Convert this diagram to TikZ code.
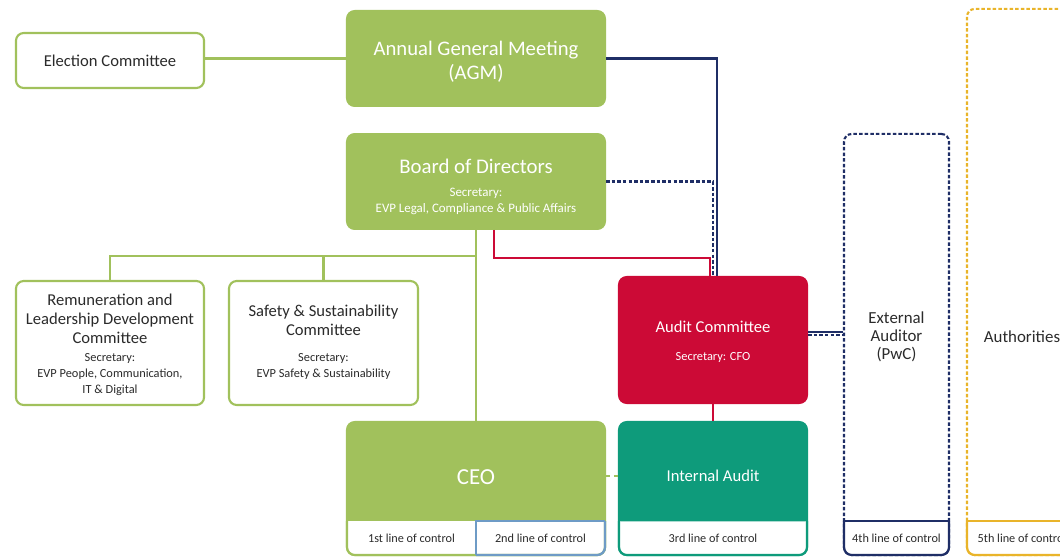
\documentclass[tikz,border=0pt]{standalone}
\usepackage{fontspec}
\setmainfont{Carlito}
\definecolor{agreen}{HTML}{A1C15C}
\definecolor{ared}{HTML}{CC0A36}
\definecolor{ateal}{HTML}{0E9B7B}
\definecolor{anavy}{HTML}{1F2E66}
\definecolor{ablue}{HTML}{6E9BC6}
\definecolor{ayellow}{HTML}{E9B42A}
\definecolor{atext}{HTML}{2B2B2B}
\tikzset{
  filledbox/.style={rectangle, rounded corners=5.5pt, fill=#1, draw=#1, line width=1.4pt},
  linebox/.style={rectangle, rounded corners=5.5pt, fill=white, draw=agreen, line width=1.5pt},
  dashbox/.style={rectangle, rounded corners=5.5pt, draw=#1, line width=1.5pt, dash pattern=on 2.5pt off 1.5pt},
  link/.style={line width=1.6pt},
  dlink/.style={line width=1.6pt, dash pattern=on 2.5pt off 1.5pt},
  wtext/.style={text=white, align=center, inner sep=0pt},
  gtext/.style={text=atext, align=center, inner sep=0pt},
  cell/.style={text=atext, inner sep=0pt, font=\fontsize{8.7}{10}\selectfont}
}
\begin{document}
\begin{tikzpicture}[x=0.025cm, y=-0.025cm]
    \useasboundingbox (0,0) rectangle (1060,557);
    \clip (0,0) rectangle (1060,557);

    \node (elect) [linebox, gtext, minimum width=4.7cm, minimum height=1.375cm, font=\fontsize{11.8}{13}\selectfont] at (110,60.5) {Election Committee};
    \node (agm) [filledbox=agreen, minimum width=6.45cm, minimum height=2.375cm] at (476,58.5) {};
    \node (agmtxt) [wtext, font=\fontsize{14.7}{17}\selectfont] at (476,62) {Annual General Meeting\\(AGM)};
    \node (board) [filledbox=agreen, minimum width=6.45cm, minimum height=2.375cm] at (476,181.5) {};
    \node (boardtxt) [wtext, font=\fontsize{14.8}{16}\selectfont] at (476,166) {Board of Directors};
    \node (boardsec) [wtext, font=\fontsize{9.2}{11.4}\selectfont] at (476,201) {Secretary:\\EVP Legal, Compliance \& Public Affairs};

    \node (remun) [linebox, minimum width=4.7cm, minimum height=3.1cm] at (110,343) {};
    \node (remuntxt) [gtext, font=\fontsize{11.8}{13.5}\selectfont] at (110,319) {Remuneration and\\Leadership Development\\Committee};
    \node (remunsec) [gtext, font=\fontsize{8.8}{11.4}\selectfont] at (110,375) {Secretary:\\EVP People, Communication,\\IT \& Digital};
    \node (safety) [linebox, minimum width=4.725cm, minimum height=3.1cm] at (323.5,343) {};
    \node (safetytxt) [gtext, font=\fontsize{11.8}{13.5}\selectfont] at (323.5,320.5) {Safety \& Sustainability\\Committee};
    \node (safetysec) [gtext, font=\fontsize{8.8}{11.4}\selectfont] at (323.5,366.5) {Secretary:\\EVP Safety \& Sustainability};

    \node (audit) [filledbox=ared, minimum width=4.7cm, minimum height=3.15cm] at (713,340) {};
    \node (audittxt) [wtext, font=\fontsize{11.8}{13}\selectfont] at (713,327) {Audit Committee};
    \node (auditsec) [wtext, font=\fontsize{8.8}{10}\selectfont] at (713,357) {Secretary: CFO};

    \node (ceo) [filledbox=agreen, minimum width=6.45cm, minimum height=3.325cm] at (476,488.5) {};
    \node (ceotxt) [wtext, font=\fontsize{16.3}{18}\selectfont] at (476,477) {CEO};
    \node (intaudit) [filledbox=ateal, minimum width=4.7cm, minimum height=3.325cm] at (713,488.5) {};
    \node (intaudittxt) [wtext, font=\fontsize{11.8}{13}\selectfont] at (713,476) {Internal Audit};

    \node (ext) [dashbox=anavy, minimum width=2.625cm, minimum height=10.525cm] at (896.5,344.5) {};
    \node (exttxt) [gtext, font=\fontsize{12}{12.8}\selectfont] at (896.5,337) {External\\Auditor\\(PwC)};
    \node (auth) [dashbox=ayellow, minimum width=2.75cm, minimum height=13.65cm] at (1022,282) {};
    \node (authtxt) [gtext, font=\fontsize{12}{13}\selectfont] at (1022,337) {Authorities};

    \path[fill=white, draw=agreen, link, rounded corners=5.5pt] (347,521) -- (347,555) -- (605,555) -- (605,521);
    \draw[link, ablue] (476,555) -- (476,521) -- (605,521);
    \draw[link, ablue, rounded corners=5.5pt] (476,555) -- (605,555) -- (605,521);
    \path[fill=white, draw=ateal, link, rounded corners=5.5pt] (619,521) -- (619,555) -- (807,555) -- (807,521);
    \draw[line width=0.6pt, ateal!35] (620,521.5) -- (806,521.5);
    \path[fill=white, draw=anavy, link, rounded corners=5.5pt] (844,521) -- (844,555) -- (949,555) -- (949,521);
    \draw[link, anavy] (844,521) -- (949,521);
    \path[fill=white, draw=ayellow, link, rounded corners=5.5pt] (967,521) -- (967,555) -- (1077,555) -- (1077,521);
    \draw[link, ayellow] (967,521) -- (1077,521);

    \node (first) [cell] at (411.5,538) {1st line of control};
    \node (second) [cell] at (540.5,538) {2nd line of control};
    \node (third) [cell] at (713,538) {3rd line of control};
    \node (fourth) [cell] at (896.5,538) {4th line of control};
    \node (fifth) [cell] at (1022,538) {5th line of control};

    \coordinate (split) at (476,256);
    \draw[link, agreen] (elect.east |- agm) -- (agm);
    \draw[link, agreen] (board) -- (ceo);
    \draw[link, agreen] (remun.north) |- (split);
    \draw[link, agreen] (safety.north) -- (safety.north |- split);
    \draw[link, anavy] (agm.east) -| ([xshift=0.1cm]audit.north);
    \draw[dlink, anavy] (board.east) -| (audit.north);
    \draw[link, ared] ([xshift=0.45cm]board.south) -- ++(0,28) -| ([xshift=-0.075cm]audit.north);
    \draw[link, ared] (audit) -- (intaudit);
    \draw[link, anavy] ([yshift=0.2cm]audit.east) -- ([yshift=0.2cm]audit.east -| ext.west);
    \draw[dlink, anavy] ([yshift=0.12cm]audit.east) -- ([yshift=0.12cm]audit.east -| ext.west);
    \draw[link, agreen, dash pattern=on 3pt off 2.5pt] ([yshift=0.31cm]ceo.east) -- ([yshift=0.31cm]intaudit.west);
\end{tikzpicture}
\end{document}
